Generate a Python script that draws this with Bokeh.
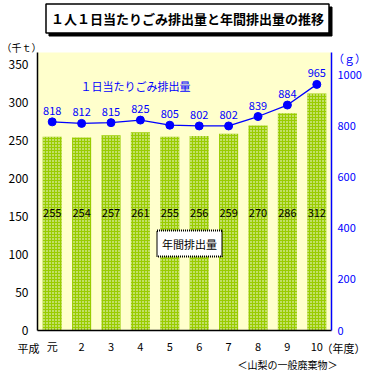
from bokeh.plotting import figure
from bokeh.models import (Range1d, LinearAxis, FixedTicker, Label,
                          ColumnDataSource, BoxAnnotation)
from bokeh.core.properties import value
from bokeh.embed import file_html
from bokeh.resources import INLINE

years = ["元", "2", "3", "4", "5", "6", "7", "8", "9", "10"]
annual = [255, 254, 257, 261, 255, 256, 259, 270, 286, 312]          # 千t
per_day = [818, 812, 815, 825, 805, 802, 802, 839, 884, 965]         # g
left_ticks = [0, 50, 100, 150, 200, 250, 300, 350]
right_ticks = [0, 200, 400, 600, 800, 1000]
left_max, right_max = 366, 1090

FONT = "Noto Sans CJK JP"
GREEN = "#99cc00"
BLUE = "#0000ff"
YELLOW = "#ffffcc"

# canvas geometry (px)
CW, CH = 365, 372
PL, PR, PT, PB = 37, 331, 52, 330  # plot area inside canvas
S = (PR - PL) / len(years)
KL = (PB - PT) / left_max
KR = (PB - PT) / right_max

xs = [i + 0.5 for i in range(len(years))]
src = ColumnDataSource(dict(x=xs, bar=annual, line=per_day,
                            bar_txt=[str(v) for v in annual],
                            line_txt=[str(v) for v in per_day],
                            mid=[155] * len(years)))

p = figure(width=CW, height=CH, min_border=0, title=None,
           x_range=Range1d(-PL / S, (CW - PL) / S),
           y_range=Range1d(-(CH - PB) / KL, PB / KL),
           output_backend="svg", toolbar_location=None,
           background_fill_color="white", border_fill_color="white",
           outline_line_color=None)
p.extra_y_ranges = {"g": Range1d(-(CH - PB) / KR, PB / KR)}
p.xgrid.visible = False
p.ygrid.visible = False

p.add_layout(BoxAnnotation(left=0, right=len(years), bottom=0, top=left_max,
                           fill_color=YELLOW, fill_alpha=1, line_color=None,
                           level="underlay"))

# bars
p.vbar(x="x", top="bar", width=0.65, source=src, fill_color=GREEN,
       line_color=None, hatch_pattern=".", hatch_color="white",
       hatch_scale=3, hatch_weight=1)
p.text(x="x", y="mid", text="bar_txt", source=src, text_align="center",
       text_baseline="middle", text_font_size="11px", text_font=value(FONT),
       text_color="black")

# line
p.line(x="x", y="line", source=src, y_range_name="g", line_color=BLUE,
       line_width=1.3)
p.scatter(x="x", y="line", source=src, y_range_name="g", size=8,
          fill_color=BLUE, line_color=BLUE)
p.text(x="x", y="line", text="line_txt", source=src, y_range_name="g",
       text_align="center", text_baseline="bottom", y_offset=-7,
       text_font_size="11px", text_font=value(FONT), text_color=BLUE)


def style_axis(a, color, size, standoff, align, baseline):
    a.axis_line_color = color
    a.axis_line_width = 1.5
    a.major_tick_line_color = None
    a.minor_tick_line_color = None
    a.major_tick_out = 0
    a.major_tick_in = 0
    a.minor_tick_out = 0
    a.minor_tick_in = 0
    a.major_label_standoff = standoff
    a.major_label_text_font = FONT
    a.major_label_text_font_size = size
    a.major_label_text_color = color
    a.major_label_text_align = align
    a.major_label_text_baseline = baseline


ax = p.xaxis[0]
ax.fixed_location = 0
ax.bounds = (0, len(years))
ax.ticker = FixedTicker(ticks=xs)
ax.major_label_overrides = {x: t for x, t in zip(xs, years)}
style_axis(ax, "black", "11px", 7, "center", "middle")

ay = p.yaxis[0]
ay.fixed_location = 0
ay.bounds = (0, left_max)
ay.ticker = FixedTicker(ticks=left_ticks)
style_axis(ay, "black", "12px", 9, "right", "middle")

ry = LinearAxis(y_range_name="g", ticker=FixedTicker(ticks=right_ticks),
                fixed_location=len(years), bounds=(0, right_max))
style_axis(ry, BLUE, "11px", 6, "left", "middle")
p.add_layout(ry, "right")


def page_to_data(px, py):
    return (px - PL) / S, (PB - py) / KL


def add_label(text, px, py, color="black", size="11px", align="center",
              bold=False, **kw):
    x, y = page_to_data(px, py)
    lbl = Label(x=x, y=y, text=text, text_color=color, text_font=FONT,
                text_font_size=size, text_align=align,
                text_baseline="middle",
                text_font_style="bold" if bold else "normal", **kw)
    p.add_layout(lbl)
    return lbl


TITLE = "１人１日当たりごみ排出量と年間排出量の推移"
add_label(TITLE, 190, 21, size="13px", bold=True, color="black",
          background_fill_color="black", border_line_color="black",
          padding=5)
add_label(TITLE, 187, 18, size="13px", bold=True,
          background_fill_color="white", border_line_color="black",
          border_line_width=1.5, padding=5)

add_label("（千ｔ）", 21, 47, size="10px")
add_label("（ｇ）", 349, 57, color=BLUE, size="11px")
add_label("１日当たりごみ排出量", 135, 85, color=BLUE, size="11px")
add_label("年間排出量", 189, 243, size="11px", background_fill_color="white",
          border_line_color="black", border_line_dash="1 1",
          border_line_width=2, padding=5)
add_label("平成", 28, 347, size="11px")
add_label("（年度）", 343, 347, size="11px")
add_label("＜山梨の一般廃棄物＞", 287, 364, size="10px")

open("out.html", "w").write(file_html(p, INLINE))
